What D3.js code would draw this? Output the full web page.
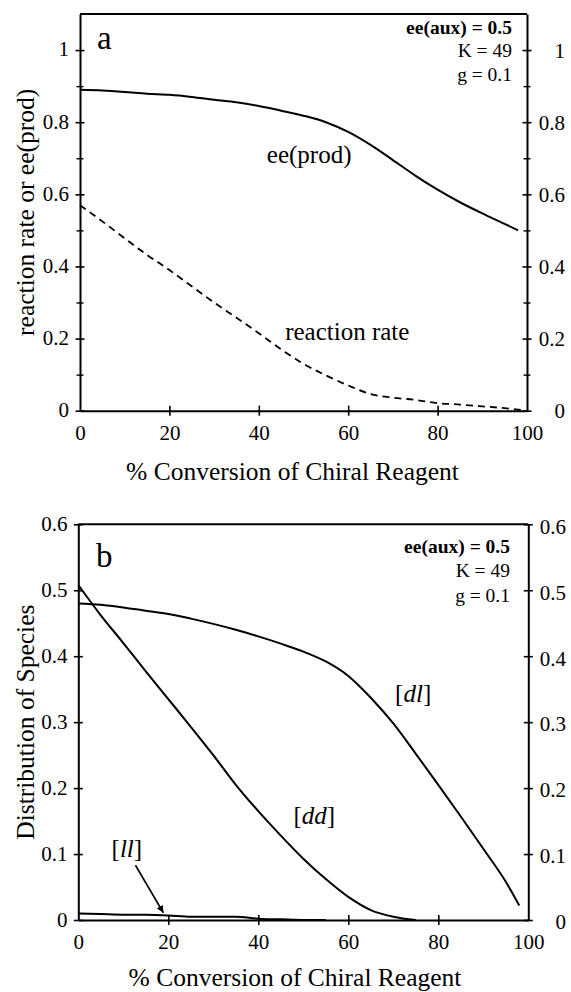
<!DOCTYPE html>
<html><head><meta charset="utf-8">
<script src="https://cdn.jsdelivr.net/npm/d3@7"></script>
<style>
html,body{margin:0;padding:0;background:#fff;}
svg{display:block;}
svg text{font-family:"Liberation Serif","Tinos","Times New Roman","DejaVu Serif",serif !important;fill:#000;}
</style></head><body>
<svg id="chart" width="571" height="992"></svg>
<script>
// ---- data ----
const conversion   = [0,5,10,15,20,25,30,35,40,45,50,55,60,65,70,75,80,85,90,95,98,100];
const eeProd       = [0.89,0.888,0.884,0.879,0.876,0.87,0.862,0.855,0.845,0.832,0.818,0.80,0.773,0.737,0.695,0.652,0.613,0.578,0.547,0.518,0.50,null];
const reactionRate = [0.57,0.525,0.478,0.432,0.39,0.345,0.30,0.258,0.215,0.17,0.13,0.098,0.07,0.046,0.036,0.03,0.021,0.017,0.012,0.007,0.003,0.0];
const dl           = [0.48,0.478,0.474,0.469,0.464,0.457,0.449,0.44,0.43,0.419,0.407,0.392,0.37,0.337,0.298,0.252,0.205,0.157,0.108,0.058,0.022,null];
const dd           = [0.508,0.462,0.42,0.377,0.335,0.293,0.25,0.205,0.165,0.128,0.093,0.062,0.035,0.015,0.005,0.0,null,null,null,null,null,null];
const ll           = [0.010,0.009,0.008,0.008,0.007,0.005,0.005,0.005,0.002,0.001,0.0,0.0,null,null,null,null,null,null,null,null,null,null];
const xTicks  = [0,20,40,60,80,100];
const yTicksA = [0,0.2,0.4,0.6,0.8,1];
const yMinorA = [0.1,0.3,0.5,0.7,0.9];
const yTicksB = [0,0.1,0.2,0.3,0.4,0.5,0.6];
const annotLines = ["ee(aux) = 0.5","K = 49","g = 0.1"];
const xTitle = "% Conversion of Chiral Reagent";
const yTitleA = "reaction rate or ee(prod)";
const yTitleB = "Distribution of Species";

const SERIF = '"Liberation Serif","Tinos","Times New Roman","DejaVu Serif",serif';
const svg = d3.select("#chart");
const fmt = d => d === 0 ? "0" : d === 1 ? "1" : d3.format(".1f")(d);

function panel(o) {
  const x = d3.scaleLinear().domain([0,100]).range([o.left,o.right]);
  const y = d3.scaleLinear().domain([0,o.ymax]).range([o.bottom,o.top]);
  const g = svg.append("g");

  const la = g.append("g").attr("transform",`translate(${o.left},0)`)
    .call(d3.axisLeft(y).tickValues(o.yTicks).tickFormat(fmt).tickSizeOuter(0));
  la.attr("font-family",SERIF).attr("font-size",21);
  la.select(".domain").attr("stroke-width",2);
  la.selectAll(".tick line").attr("x1",-4.5).attr("x2",4.5).attr("stroke-width",1.6);
  la.selectAll(".tick text").attr("x",-(o.left-o.lLab)).attr("dy",o.ldy);

  const ra = g.append("g").attr("transform",`translate(${o.right},0)`)
    .call(d3.axisRight(y).tickValues(o.yTicks).tickFormat(fmt).tickSizeOuter(0));
  ra.attr("font-family",SERIF).attr("font-size",21);
  ra.select(".domain").attr("stroke-width",2);
  ra.selectAll(".tick line").attr("x1",-4.5).attr("x2",4.5).attr("stroke-width",1.6);
  ra.selectAll(".tick text").attr("x",o.rLab-o.right).attr("dy",o.rdy).attr("text-anchor","end");

  if (o.minor) {
    [o.left,o.right].forEach(px => {
      const m = g.append("g").attr("transform",`translate(${px},0)`)
        .call(d3.axisLeft(y).tickValues(o.minor).tickFormat("").tickSizeOuter(0));
      m.select(".domain").remove();
      m.selectAll(".tick line").attr("x1",-3.5).attr("x2",3.5).attr("stroke-width",1.4);
    });
  }

  const xa = g.append("g").attr("transform",`translate(0,${o.bottom})`)
    .call(d3.axisBottom(x).tickValues(xTicks).tickSizeOuter(0));
  xa.attr("font-family",SERIF).attr("font-size",21);
  xa.select(".domain").attr("stroke-width",2);
  xa.selectAll(".tick line").attr("y1",-5).attr("y2",5).attr("stroke-width",1.6)
    .filter(d => d===0 || d===100).remove();
  xa.selectAll(".tick text").attr("y",29).attr("dy",0);

  g.append("line").attr("x1",x(0)).attr("x2",x(100)).attr("y1",y(o.ymax)).attr("y2",y(o.ymax))
    .attr("stroke","#000").attr("stroke-width",2);

  g.append("text").attr("x",o.xTitleX).attr("y",o.xTitleY).attr("text-anchor","middle")
    .style("font-size","25.5px").text(xTitle);
  g.append("text").attr("transform",`translate(${o.yTitleX},${(o.top+o.bottom)/2}) rotate(-90)`)
    .attr("text-anchor","middle").style("font-size","25.5px").text(o.yTitle);

  g.append("text").attr("x",o.letterX).attr("y",o.letterY).style("font-size","33px").text(o.letter);

  annotLines.forEach((t,i) => {
    g.append("text").attr("x",o.annX).attr("y",o.annY + i*o.annDy).attr("text-anchor","end")
      .style("font-size","19.5px").style("font-weight", i===0 ? "bold" : "normal").text(t);
  });

  return {x,y,g};
}

// ---- panel a ----
const A = panel({left:80,right:527,top:14,bottom:410.7,ymax:1.1,yTicks:yTicksA,minor:yMinorA,
  lLab:69,rLab:565,ldy:"0.28em",rdy:"0.34em",xTitleX:292.5,xTitleY:480,yTitleX:34,yTitle:yTitleA,
  letter:"a",letterX:97,letterY:49,annX:512,annY:34,annDy:23.3});

const lineA = (vals) => d3.line().defined((d,i)=>vals[i]!==null).curve(d3.curveMonotoneX)
  .x((d,i)=>A.x(conversion[i])).y((d,i)=>A.y(vals[i]));
A.g.append("path").datum(conversion).attr("d",lineA(eeProd))
  .attr("fill","none").attr("stroke","#000").attr("stroke-width",2);
A.g.append("path").datum(conversion).attr("d",lineA(reactionRate))
  .attr("fill","none").attr("stroke","#000").attr("stroke-width",1.8).attr("stroke-dasharray","7,5");
A.g.append("text").attr("x",A.x(41.8)).attr("y",A.y(0.688)).style("font-size","25px").text("ee(prod)");
A.g.append("text").attr("x",A.x(45.9)).attr("y",A.y(0.196)).style("font-size","25px").text("reaction rate");

// ---- panel b ----
const B = panel({left:78.3,right:528.3,top:524.3,bottom:920,ymax:0.6,yTicks:yTicksB,minor:null,
  lLab:67.5,rLab:566,ldy:"0.3em",rdy:"0.42em",xTitleX:295,xTitleY:986,yTitleX:34,yTitle:yTitleB,
  letter:"b",letterX:96,letterY:567,annX:510,annY:553,annDy:24.3});

const lineB = (vals) => d3.line().defined((d,i)=>vals[i]!==null).curve(d3.curveMonotoneX)
  .x((d,i)=>B.x(conversion[i])).y((d,i)=>B.y(vals[i]));
[dl,dd,ll].forEach(v => {
  B.g.append("path").datum(conversion).attr("d",lineB(v))
    .attr("fill","none").attr("stroke","#000").attr("stroke-width",2);
});

function species(parts, xv, yv) {
  const t = B.g.append("text").attr("x",B.x(xv)).attr("y",B.y(yv)).style("font-size","25px");
  t.append("tspan").text("[");
  t.append("tspan").style("font-style","italic").text(parts);
  t.append("tspan").text("]");
}
species("dl",70.4,0.33);
species("dd",47.8,0.145);
species("ll",7.4,0.095);

svg.append("defs").append("marker").attr("id","ah").attr("viewBox","0 0 10 10")
  .attr("refX",10).attr("refY",5).attr("markerWidth",7).attr("markerHeight",7)
  .attr("markerUnits","userSpaceOnUse").attr("orient","auto")
  .append("path").attr("d","M0,0 L10,5 L0,10 Z").attr("fill","#000");
B.g.append("line").attr("x1",B.x(12.7)).attr("y1",B.y(0.083))
  .attr("x2",B.x(18.9)).attr("y2",B.y(0.011))
  .attr("stroke","#000").attr("stroke-width",1.6).attr("marker-end","url(#ah)");
</script>
</body></html>
